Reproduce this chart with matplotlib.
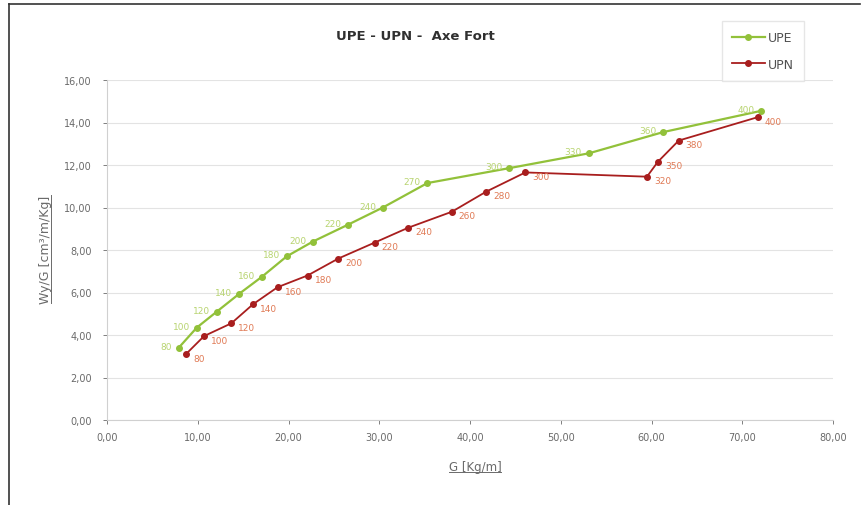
import numpy as np
import matplotlib
matplotlib.use("Agg")
import matplotlib.pyplot as plt
from matplotlib.lines import Line2D

# --- data ---
upe_sizes = ["80", "100", "120", "140", "160", "180", "200", "220", "240", "270", "300", "330", "360", "400"]
upe_g = [7.9, 9.9, 12.1, 14.6, 17.1, 19.8, 22.7, 26.6, 30.4, 35.3, 44.3, 53.1, 61.3, 72.1]
upe_ratio = [3.40, 4.35, 5.10, 5.95, 6.75, 7.70, 8.40, 9.20, 10.00, 11.15, 11.85, 12.55, 13.55, 14.55]

upn_sizes = ["80", "100", "120", "140", "160", "180", "200", "220", "240", "260", "280", "300", "320", "350", "380", "400"]
upn_g = [8.7, 10.7, 13.7, 16.1, 18.8, 22.1, 25.5, 29.5, 33.2, 38.0, 41.8, 46.1, 59.5, 60.7, 63.0, 71.7]
upn_ratio = [3.10, 3.95, 4.55, 5.45, 6.25, 6.80, 7.60, 8.35, 9.05, 9.80, 10.75, 11.65, 11.45, 12.15, 13.15, 14.25]

x_ticks = np.arange(0, 81, 10)
y_ticks = np.arange(0, 17, 2)

GREEN = "#92c13a"
RED = "#a81e1e"
GREEN_TXT = "#b8d470"
RED_TXT = "#e07a55"
TXT = "#6a6a6a"

fig = plt.figure(figsize=(8.68, 5.06), dpi=100, facecolor="white")
ax = fig.add_axes([107 / 868, 1 - 421 / 506, (833 - 107) / 868, (421 - 81) / 506])

ax.plot(upe_g, upe_ratio, color=GREEN, lw=1.6, marker="o", ms=4, label="UPE", zorder=3)
ax.plot(upn_g, upn_ratio, color=RED, lw=1.3, marker="o", ms=4, label="UPN", zorder=3)

for x, y, s in zip(upe_g, upe_ratio, upe_sizes):
    ax.annotate(s, (x, y), xytext=(-5, 1), textcoords="offset points",
                ha="right", va="center", fontsize=6.5, color=GREEN_TXT)
for x, y, s in zip(upn_g, upn_ratio, upn_sizes):
    ax.annotate(s, (x, y), xytext=(5, -3), textcoords="offset points",
                ha="left", va="center", fontsize=6.5, color=RED_TXT)

ax.set_xlim(0, 80)
ax.set_ylim(0, 16)
ax.set_xticks(x_ticks)
ax.set_yticks(y_ticks)
ax.set_xticklabels([f"{v:.2f}".replace(".", ",") for v in x_ticks])
ax.set_yticklabels([f"{v:.2f}".replace(".", ",") for v in y_ticks])
ax.tick_params(labelsize=7, colors=TXT, length=3, width=0.6)
ax.tick_params(axis="x", pad=6)
ax.tick_params(axis="y", pad=8)
ax.grid(True, axis="y", color="#e3e3e3", lw=0.8)
for side in ["top", "right"]:
    ax.spines[side].set_visible(False)
for side in ["left", "bottom"]:
    ax.spines[side].set_color("#d0d0d0")
    ax.spines[side].set_linewidth(0.8)
ax.set_axisbelow(True)

fig.text(415 / 868, 1 - 36 / 506, "UPE - UPN -  Axe Fort", ha="center", va="center",
         fontsize=9.5, fontweight="bold", color="#303030")

xl = fig.text(475 / 868, 1 - 468 / 506, "G [Kg/m]", ha="center", va="center", fontsize=8.5, color=TXT)
yl = fig.text(45 / 868, 1 - 250 / 506, "Wy/G [cm³/m/Kg]", ha="center", va="center",
              rotation=90, fontsize=9, color=TXT)

# legend
handles = [Line2D([], [], color=GREEN, lw=1.6, marker="o", ms=4),
           Line2D([], [], color=RED, lw=1.3, marker="o", ms=4)]
leg = fig.legend(handles, ["UPE", "UPN"], loc="upper left",
                 bbox_to_anchor=(722 / 868, 1 - 22 / 506), fontsize=9, frameon=True,
                 fancybox=False, edgecolor="#e0e0e0", handlelength=2.6, handletextpad=0.3,
                 labelspacing=1.1, borderpad=0.8, borderaxespad=0)
for t in leg.get_texts():
    t.set_color("#505050")

# underline the axis titles
fig.canvas.draw()
r = fig.canvas.get_renderer()
inv = fig.transFigure.inverted()
bb = xl.get_window_extent(r)
(x0, y0), (x1, y1) = inv.transform([[bb.x0, bb.y0], [bb.x1, bb.y1]])
fig.add_artist(Line2D([x0, x1], [y0 + 0.002, y0 + 0.002], color=TXT, lw=0.7, transform=fig.transFigure))
bb = yl.get_window_extent(r)
(x0, y0), (x1, y1) = inv.transform([[bb.x0, bb.y0], [bb.x1, bb.y1]])
fig.add_artist(Line2D([x1 - 0.001, x1 - 0.001], [y0, y1], color=TXT, lw=0.7, transform=fig.transFigure))

# outer frame (top and left edges visible in the picture)
fig.add_artist(Line2D([9 / 868, 860 / 868], [1 - 5 / 506, 1 - 5 / 506], color="#333333", lw=1.2, transform=fig.transFigure))
fig.add_artist(Line2D([9 / 868, 9 / 868], [0, 1 - 5 / 506], color="#333333", lw=1.2, transform=fig.transFigure))

fig.savefig("out.png", dpi=100, facecolor="white")
